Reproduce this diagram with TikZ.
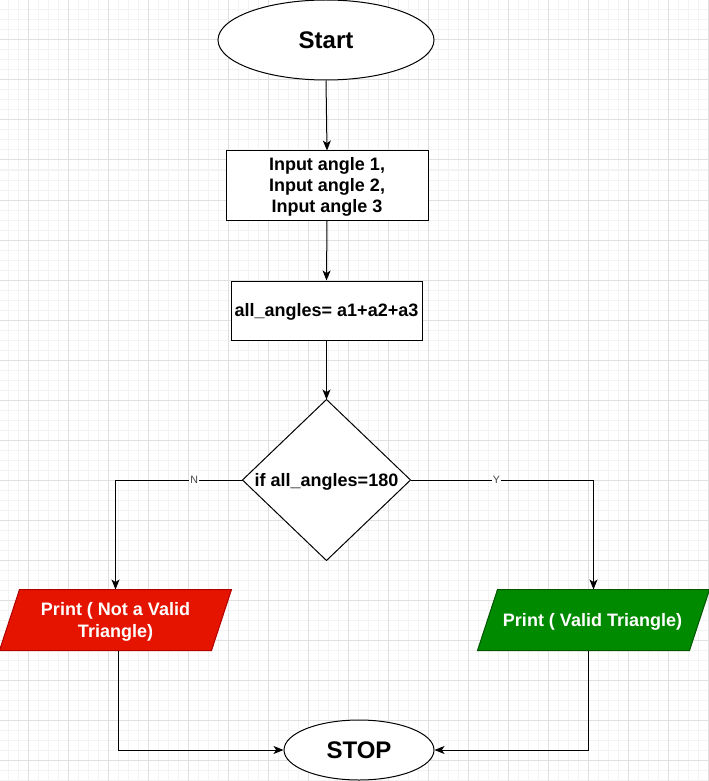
\documentclass[tikz,border=0pt]{standalone}
\usepackage{fontspec}
\setmainfont{Liberation Sans}
\usetikzlibrary{shapes.geometric,arrows.meta}
\definecolor{gridminor}{HTML}{F3F3F3}
\definecolor{gridmajor}{HTML}{E0E0E0}
\definecolor{redfill}{HTML}{E51400}
\definecolor{redline}{HTML}{B20000}
\definecolor{greenfill}{HTML}{008A00}
\definecolor{greenline}{HTML}{005700}
\definecolor{lblgray}{HTML}{444444}
\begin{document}
\begin{tikzpicture}[x=0.75pt,y=-0.75pt,line width=0.75pt,
  txt/.style={font=\fontsize{13.5pt}{16pt}\selectfont\bfseries,align=center,inner sep=0pt},
  box/.style={draw=black,fill=white,rectangle,inner sep=0pt},
  term/.style={draw=black,fill=white,ellipse,inner sep=0pt,font=\fontsize{18pt}{21pt}\selectfont\bfseries},
  frame/.style={rectangle,draw=none,inner sep=0pt},
  arr/.style={-{Stealth[length=7.5pt,width=6pt,inset=2pt]}},
  lbl/.style={font=\fontsize{8pt}{9pt}\selectfont,text=lblgray,fill=white,inner sep=1pt}]
\useasboundingbox (0,0) rectangle (709,781);
\fill[white] (0,0) rectangle (709,781);
% grid
\foreach \x in {8,18,...,708} \draw[gridminor] (\x,0) -- (\x,781);
\foreach \y in {10,20,...,780} \draw[gridminor] (0,\y) -- (709,\y);
\foreach \x in {28,68,...,708} \draw[gridmajor] (\x,0) -- (\x,781);
\foreach \y in {40,80,...,780} \draw[gridmajor] (0,\y) -- (709,\y);

% nodes
\node[term,minimum width=162pt,minimum height=60pt] (start) at (326,40) {Start};
\node[box,minimum width=151.5pt,minimum height=51.75pt] (input) at (327,185.5) {};
\node[txt] (inputtext) at (327,187) {Input angle 1,\\Input angle 2,\\Input angle 3};
\node[box,minimum width=143.25pt,minimum height=44.25pt] (calc) at (326.5,310.5) {};
\node[txt] (calctext) at (326.5,312) {all\_angles= a1+a2+a3};

% decision
\node[frame,minimum width=125.25pt,minimum height=120pt] (dec) at (326.5,480) {};
\filldraw[draw=black,fill=white] (dec.north) -- (dec.east) -- (dec.south) -- (dec.west) -- cycle;
\node[txt] (dectext) at (326.5,481.5) {if all\_angles=180};

% red output
\node[frame,minimum width=173.25pt,minimum height=45pt] (red) at (115.5,620) {};
\filldraw[draw=redline,fill=redfill] ([xshift=15pt]red.north west) -- (red.north east)
  -- ([xshift=-15pt]red.south east) -- (red.south west) -- cycle;
\node[txt,text=white] (redtext) at (115.5,622) {Print ( Not a Valid\\Triangle)};

% green output
\node[frame,minimum width=173.25pt,minimum height=45pt] (green) at (593.5,620) {};
\filldraw[draw=greenline,fill=greenfill] ([xshift=15pt]green.north west) -- (green.north east)
  -- ([xshift=-15pt]green.south east) -- (green.south west) -- cycle;
\node[txt,text=white] (greentext) at (592.5,621.5) {Print ( Valid Triangle)};

% stop
\node[term,minimum width=112.5pt,minimum height=45pt] (stop) at (359,750) {STOP};

% connectors
\draw[arr] (start.south) -- (input.north);
\draw[arr] (input.south) -- (calc.north);
\draw[arr] (calc.south) -- (dec.north);
\draw[arr] (dec.west) -| node[lbl,pos=0.19] (nlab) {N} (red.north);
\draw[arr] (dec.east) -| node[lbl,pos=0.235] (ylab) {Y} (green.north);
\draw[arr] ([xshift=2.25pt]red.south) |- (stop.west);
\draw[arr] ([xshift=-3.4pt]green.south) |- (stop.east);
\end{tikzpicture}
\end{document}
